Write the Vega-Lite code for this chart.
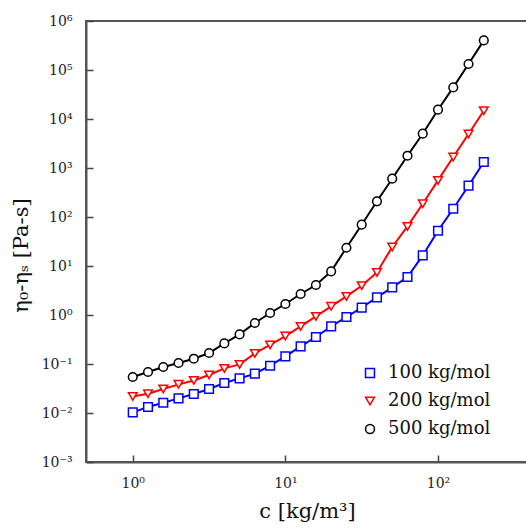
{
  "$schema": "https://vega.github.io/schema/vega-lite/v6.json",
  "width": 442,
  "height": 441,
  "autosize": {"type": "none"},
  "padding": {"left": 86, "top": 21, "right": -2, "bottom": 67},
  "background": "white",
  "config": {
    "view": {"stroke": "#555555", "strokeWidth": 2},
    "font": "DejaVu Serif",
    "axis": {"grid": false, "domainColor": "#555555", "domainWidth": 2, "tickColor": "#444444", "tickWidth": 1.5, "tickSize": -7, "labelFont": "DejaVu Serif", "labelFontSize": 14, "labelColor": "#222222", "titleFont": "DejaVu Serif", "titleFontSize": 21, "titleFontWeight": "normal", "titleColor": "#111111"},
    "legend": {"labelFont": "DejaVu Serif", "labelFontSize": 18, "labelColor": "#111111", "labelOffset": 9, "rowPadding": 10, "symbolSize": 80, "symbolStrokeWidth": 1.5, "symbolFillColor": "white"}
  },
  "data": {"values": [
    {"c": 1, "eta": 0.01028, "series": "100 kg/mol"},
    {"c": 1.2589, "eta": 0.01324, "series": "100 kg/mol"},
    {"c": 1.5849, "eta": 0.01622, "series": "100 kg/mol"},
    {"c": 1.9953, "eta": 0.01986, "series": "100 kg/mol"},
    {"c": 2.5119, "eta": 0.02443, "series": "100 kg/mol"},
    {"c": 3.1623, "eta": 0.0309, "series": "100 kg/mol"},
    {"c": 3.9811, "eta": 0.0409, "series": "100 kg/mol"},
    {"c": 5.0119, "eta": 0.0508, "series": "100 kg/mol"},
    {"c": 6.3096, "eta": 0.0634, "series": "100 kg/mol"},
    {"c": 7.9433, "eta": 0.0923, "series": "100 kg/mol"},
    {"c": 10, "eta": 0.1429, "series": "100 kg/mol"},
    {"c": 12.589, "eta": 0.2286, "series": "100 kg/mol"},
    {"c": 15.849, "eta": 0.3556, "series": "100 kg/mol"},
    {"c": 19.953, "eta": 0.5848, "series": "100 kg/mol"},
    {"c": 25.119, "eta": 0.9099, "series": "100 kg/mol"},
    {"c": 31.623, "eta": 1.409, "series": "100 kg/mol"},
    {"c": 39.811, "eta": 2.286, "series": "100 kg/mol"},
    {"c": 50.119, "eta": 3.656, "series": "100 kg/mol"},
    {"c": 63.096, "eta": 5.97, "series": "100 kg/mol"},
    {"c": 79.433, "eta": 16.44, "series": "100 kg/mol"},
    {"c": 100, "eta": 52.48, "series": "100 kg/mol"},
    {"c": 125.89, "eta": 147.6, "series": "100 kg/mol"},
    {"c": 158.49, "eta": 435.5, "series": "100 kg/mol"},
    {"c": 199.53, "eta": 1324, "series": "100 kg/mol"},
    {"c": 1, "eta": 0.0218, "series": "200 kg/mol"},
    {"c": 1.2589, "eta": 0.0248, "series": "200 kg/mol"},
    {"c": 1.5849, "eta": 0.0309, "series": "200 kg/mol"},
    {"c": 1.9953, "eta": 0.0384, "series": "200 kg/mol"},
    {"c": 2.5119, "eta": 0.0462, "series": "200 kg/mol"},
    {"c": 3.1623, "eta": 0.0597, "series": "200 kg/mol"},
    {"c": 3.9811, "eta": 0.0813, "series": "200 kg/mol"},
    {"c": 5.0119, "eta": 0.0982, "series": "200 kg/mol"},
    {"c": 6.3096, "eta": 0.1644, "series": "200 kg/mol"},
    {"c": 7.9433, "eta": 0.2443, "series": "200 kg/mol"},
    {"c": 10, "eta": 0.3724, "series": "200 kg/mol"},
    {"c": 12.589, "eta": 0.5848, "series": "200 kg/mol"},
    {"c": 15.849, "eta": 0.9354, "series": "200 kg/mol"},
    {"c": 19.953, "eta": 1.5, "series": "200 kg/mol"},
    {"c": 25.119, "eta": 2.399, "series": "200 kg/mol"},
    {"c": 31.623, "eta": 3.963, "series": "200 kg/mol"},
    {"c": 39.811, "eta": 7.396, "series": "200 kg/mol"},
    {"c": 50.119, "eta": 24.43, "series": "200 kg/mol"},
    {"c": 63.096, "eta": 64.27, "series": "200 kg/mol"},
    {"c": 79.433, "eta": 186.6, "series": "200 kg/mol"},
    {"c": 100, "eta": 558.5, "series": "200 kg/mol"},
    {"c": 125.89, "eta": 1675, "series": "200 kg/mol"},
    {"c": 158.49, "eta": 4943, "series": "200 kg/mol"},
    {"c": 199.53, "eta": 14760, "series": "200 kg/mol"},
    {"c": 1, "eta": 0.0543, "series": "500 kg/mol"},
    {"c": 1.2589, "eta": 0.0687, "series": "500 kg/mol"},
    {"c": 1.5849, "eta": 0.0869, "series": "500 kg/mol"},
    {"c": 1.9953, "eta": 0.1047, "series": "500 kg/mol"},
    {"c": 2.5119, "eta": 0.1282, "series": "500 kg/mol"},
    {"c": 3.1623, "eta": 0.1675, "series": "500 kg/mol"},
    {"c": 3.9811, "eta": 0.263, "series": "500 kg/mol"},
    {"c": 5.0119, "eta": 0.402, "series": "500 kg/mol"},
    {"c": 6.3096, "eta": 0.687, "series": "500 kg/mol"},
    {"c": 7.9433, "eta": 1.099, "series": "500 kg/mol"},
    {"c": 10, "eta": 1.675, "series": "500 kg/mol"},
    {"c": 12.589, "eta": 2.685, "series": "500 kg/mol"},
    {"c": 15.849, "eta": 4.09, "series": "500 kg/mol"},
    {"c": 19.953, "eta": 7.76, "series": "500 kg/mol"},
    {"c": 25.119, "eta": 23.6, "series": "500 kg/mol"},
    {"c": 31.623, "eta": 69.7, "series": "500 kg/mol"},
    {"c": 39.811, "eta": 208.9, "series": "500 kg/mol"},
    {"c": 50.119, "eta": 605, "series": "500 kg/mol"},
    {"c": 63.096, "eta": 1782, "series": "500 kg/mol"},
    {"c": 79.433, "eta": 5012, "series": "500 kg/mol"},
    {"c": 100, "eta": 15490, "series": "500 kg/mol"},
    {"c": 125.89, "eta": 44160, "series": "500 kg/mol"},
    {"c": 158.49, "eta": 132400, "series": "500 kg/mol"},
    {"c": 199.53, "eta": 401800, "series": "500 kg/mol"}
  ]},
  "encoding": {
    "x": {"field": "c", "type": "quantitative",
      "scale": {"type": "log", "domain": [0.494, 388.7], "nice": false},
      "axis": {"values": [1, 10, 100], "title": "c [kg/m³]", "labelPadding": 21, "labelExpr": "'10' + ['⁰','¹','²'][round(log(datum.value)/LN10)]", "titlePadding": 10}},
    "y": {"field": "eta", "type": "quantitative",
      "scale": {"type": "log", "domain": [0.001, 1000000], "nice": false},
      "axis": {"values": [0.001, 0.01, 0.1, 1, 10, 100, 1000, 10000, 100000, 1000000], "title": "η₀-ηₛ [Pa-s]", "labelPadding": 21, "labelExpr": "'10' + ['⁻³','⁻²','⁻¹','⁰','¹','²','³','⁴','⁵','⁶'][round(log(datum.value)/LN10)+3]", "titlePadding": 10, "titleY": 234}},
    "color": {"field": "series", "type": "nominal", "scale": {"domain": ["100 kg/mol", "200 kg/mol", "500 kg/mol"], "range": ["#0000ff", "#ff0000", "#000000"]},
      "legend": {"title": null, "orient": "none", "legendX": 275, "legendY": 343}}
  },
  "layer": [
    {"mark": {"type": "line", "strokeWidth": 2}},
    {"mark": {"type": "point", "filled": false, "fill": "white", "fillOpacity": 1, "opacity": 1, "size": 75, "strokeWidth": 1.5},
     "encoding": {
       "shape": {"field": "series", "type": "nominal", "scale": {"domain": ["100 kg/mol", "200 kg/mol", "500 kg/mol"], "range": ["square", "triangle-down", "circle"]},
         "legend": {"title": null, "orient": "none", "legendX": 275, "legendY": 343}}
     }}
  ]
}
